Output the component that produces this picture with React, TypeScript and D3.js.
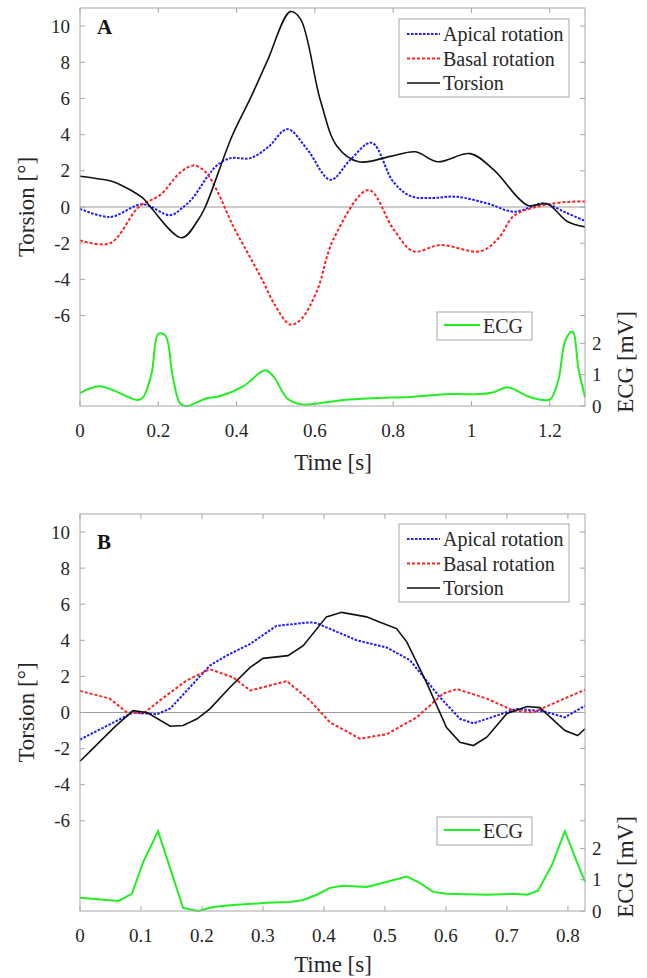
import React from 'react';
import * as d3 from 'd3';

// ---- panel A data (time in s, rotation in degrees, ECG in mV) ----
const apicalA_t = [0, 0.077, 0.16, 0.23, 0.264, 0.29, 0.325, 0.35, 0.384, 0.435, 0.48, 0.53, 0.58, 0.64, 0.69, 0.745, 0.8, 0.845, 0.9, 0.96, 1.04, 1.11, 1.185, 1.24, 1.29];
const apicalA = [-0.1, -0.55, 0.15, -0.45, 0.0, 0.55, 1.67, 2.3, 2.7, 2.7, 3.3, 4.3, 3.2, 1.5, 2.6, 3.55, 1.4, 0.6, 0.5, 0.57, 0.2, -0.26, 0.2, -0.3, -0.77];
const basalA_t = [0, 0.077, 0.15, 0.205, 0.256, 0.29, 0.32, 0.35, 0.39, 0.43, 0.465, 0.5, 0.537, 0.565, 0.606, 0.647, 0.737, 0.8, 0.852, 0.92, 1.023, 1.07, 1.108, 1.176, 1.245, 1.29];
const basalA = [-1.85, -2.0, 0.0, 0.67, 1.9, 2.3, 1.95, 0.9, -1.0, -2.6, -4.0, -5.5, -6.5, -6.2, -4.6, -1.8, 0.94, -1.2, -2.45, -2.1, -2.45, -1.7, -0.5, 0.06, 0.28, 0.3];
const torsionA_t = [0, 0.05, 0.085, 0.16, 0.18, 0.26, 0.302, 0.32, 0.388, 0.435, 0.478, 0.537, 0.563, 0.614, 0.657, 0.712, 0.793, 0.857, 0.913, 0.997, 1.057, 1.143, 1.194, 1.245, 1.29];
const torsionA = [1.7, 1.55, 1.4, 0.5, 0.0, -1.7, -0.7, 0.0, 3.9, 6.0, 8.05, 10.8, 10.4, 5.9, 3.35, 2.5, 2.8, 3.05, 2.5, 2.95, 2.05, 0.1, 0.17, -0.8, -1.1];
const ecgA_t = [0, 0.05, 0.149, 0.162, 0.183, 0.2, 0.218, 0.237, 0.256, 0.273, 0.324, 0.358, 0.417, 0.473, 0.495, 0.529, 0.563, 0.606, 0.673, 0.75, 0.844, 0.946, 1.023, 1.057, 1.092, 1.142, 1.185, 1.202, 1.222, 1.24, 1.258, 1.274, 1.29];
const ecgA = [0.41, 0.63, 0.19, 0.29, 1.05, 2.3, 2.25, 0.93, 0.08, 0.0, 0.25, 0.32, 0.63, 1.14, 0.93, 0.25, 0.06, 0.08, 0.19, 0.25, 0.29, 0.38, 0.38, 0.44, 0.6, 0.32, 0.19, 0.22, 0.83, 2.1, 2.38, 1.14, 0.29];

// ---- panel B data ----
const apicalB_t = [0, 0.087, 0.126, 0.148, 0.213, 0.24, 0.279, 0.322, 0.377, 0.388, 0.454, 0.503, 0.541, 0.59, 0.623, 0.645, 0.716, 0.759, 0.795, 0.828];
const apicalB = [-1.5, 0.0, -0.1, 0.22, 2.6, 3.15, 3.8, 4.8, 5.0, 4.95, 4.0, 3.6, 2.9, 0.85, -0.35, -0.6, 0.2, 0.07, -0.27, 0.38];
const basalB_t = [0, 0.049, 0.077, 0.104, 0.131, 0.175, 0.213, 0.251, 0.279, 0.339, 0.377, 0.41, 0.459, 0.503, 0.552, 0.595, 0.618, 0.667, 0.71, 0.743, 0.787, 0.828];
const basalB = [1.2, 0.77, 0.0, -0.05, 0.67, 1.78, 2.4, 1.95, 1.22, 1.74, 0.67, -0.55, -1.45, -1.2, -0.27, 1.04, 1.3, 0.77, 0.11, 0.0, 0.67, 1.26];
const torsionB_t = [0, 0.021, 0.057, 0.087, 0.11, 0.148, 0.169, 0.192, 0.213, 0.246, 0.279, 0.3, 0.341, 0.366, 0.404, 0.429, 0.47, 0.492, 0.519, 0.536, 0.568, 0.601, 0.623, 0.645, 0.667, 0.7, 0.733, 0.754, 0.795, 0.816, 0.828];
const torsionB = [-2.7, -2.0, -0.8, 0.1, 0.0, -0.76, -0.72, -0.35, 0.2, 1.4, 2.5, 3.0, 3.15, 3.7, 5.3, 5.55, 5.3, 5.0, 4.65, 3.9, 1.67, -0.83, -1.65, -1.83, -1.37, -0.05, 0.33, 0.27, -1.0, -1.28, -0.9];
const ecgB_t = [0, 0.063, 0.085, 0.104, 0.128, 0.169, 0.194, 0.218, 0.251, 0.306, 0.344, 0.366, 0.388, 0.41, 0.431, 0.47, 0.497, 0.536, 0.557, 0.579, 0.601, 0.667, 0.71, 0.733, 0.751, 0.774, 0.795, 0.815, 0.828];
const ecgB = [0.42, 0.32, 0.55, 1.58, 2.55, 0.1, 0.0, 0.13, 0.19, 0.26, 0.29, 0.35, 0.52, 0.74, 0.81, 0.77, 0.9, 1.1, 0.9, 0.61, 0.55, 0.52, 0.55, 0.52, 0.65, 1.48, 2.55, 1.55, 0.94];

// ---- axis ticks / labels ----
const torsionTicks = [-6, -4, -2, 0, 2, 4, 6, 8, 10];
const ecgTicks = [0, 1, 2];
const timeTicksA = [0, 0.2, 0.4, 0.6, 0.8, 1, 1.2];
const timeTicksB = [0, 0.1, 0.2, 0.3, 0.4, 0.5, 0.6, 0.7, 0.8];
const legendLabels = ['Apical rotation', 'Basal rotation', 'Torsion'];

const FONT = "'Liberation Serif', 'DejaVu Serif', 'Times New Roman', serif";
const TXT = '#262626';
const AXIS = '#a6a6a6';

const zip = (t, v) => t.map((x, i) => [x, v[i]]);

function Panel({ top, bottom, tMax, timeTicks, letter, letterY, data, smooth, legendTop, ecgLegendTop, timeLabelY }) {
  const left = 80, right = 585;
  const x = d3.scaleLinear().domain([0, tMax]).range([left, right]);
  const y = d3.scaleLinear().domain([-11, 11]).range([bottom, top]);
  const yE = d3.scaleLinear().domain([0, (bottom - top) / 31.3]).range([bottom, top]);
  const curve = smooth ? d3.curveCatmullRom.alpha(0.5) : d3.curveLinear;
  const line = d3.line().x(d => x(d[0])).y(d => y(d[1])).curve(curve);
  const lineE = d3.line().x(d => x(d[0])).y(d => yE(d[1])).curve(curve);
  const tk = 5;
  const fmt = d3.format('~g');
  const ts = { fontFamily: FONT };

  const series = [
    { pts: zip(data.apical_t, data.apical), color: '#1a1aff', dash: '2.5,1.5', w: 2 },
    { pts: zip(data.basal_t, data.basal), color: '#ff2020', dash: '3,2', w: 2 },
    { pts: zip(data.torsion_t, data.torsion), color: '#111', dash: null, w: 1.6 },
  ];

  return (
    <g>
      {/* zero line */}
      <line x1={left} x2={right} y1={y(0)} y2={y(0)} stroke="#9a9a9a" strokeWidth={1} />
      {/* series */}
      {series.map((s, i) => (
        <path key={i} d={line(s.pts)} fill="none" stroke={s.color} strokeWidth={s.w}
          strokeDasharray={s.dash || undefined} />
      ))}
      <path d={lineE(zip(data.ecg_t, data.ecg))} fill="none" stroke="#22ee22" strokeWidth={2} />

      {/* box */}
      <rect x={left} y={top} width={right - left} height={bottom - top} fill="none" stroke={AXIS} strokeWidth={1} />
      {/* time ticks */}
      {timeTicks.map(t => (
        <g key={t}>
          <line x1={x(t)} x2={x(t)} y1={bottom} y2={bottom - tk} stroke={AXIS} />
          <line x1={x(t)} x2={x(t)} y1={top} y2={top + tk} stroke={AXIS} />
          <text style={ts} x={x(t)} y={bottom + 31} textAnchor="middle" fontSize={19} fill={TXT}>{fmt(t)}</text>
        </g>
      ))}
      {/* torsion ticks */}
      {torsionTicks.map(v => (
        <g key={v}>
          <line x1={left} x2={left + tk} y1={y(v)} y2={y(v)} stroke={AXIS} />
          <line x1={right} x2={right - tk} y1={y(v)} y2={y(v)} stroke={AXIS} />
          <text style={ts} x={70} y={y(v) + 6.5} textAnchor="end" fontSize={19} fill={TXT}>{v}</text>
        </g>
      ))}
      {/* ECG ticks */}
      {ecgTicks.map(v => (
        <g key={v}>
          <line x1={right} x2={right - tk} y1={yE(v)} y2={yE(v)} stroke={AXIS} />
          <text style={ts} x={592} y={yE(v) + 6.5} textAnchor="start" fontSize={19} fill={TXT}>{v}</text>
        </g>
      ))}

      {/* axis labels */}
      <text style={ts} transform={`translate(34,${y(0)}) rotate(-90)`} textAnchor="middle" fontSize={23} fill={TXT}>Torsion [°]</text>
      <text style={ts} transform={`translate(633,${yE(0) - 44}) rotate(-90)`} textAnchor="middle" fontSize={23} fill={TXT}>ECG [mV]</text>
      <text style={ts} x={333} y={timeLabelY} textAnchor="middle" fontSize={23} fill={TXT}>Time [s]</text>
      <text style={ts} x={97} y={letterY} fontSize={21} fontWeight="bold" fill="#111">{letter}</text>

      {/* main legend */}
      <rect x={399} y={legendTop} width={170} height={78} fill="#fff" stroke={AXIS} />
      {legendLabels.map((lab, i) => (
        <g key={lab}>
          <line x1={407} x2={440} y1={legendTop + 15 + i * 24.5} y2={legendTop + 15 + i * 24.5}
            stroke={series[i].color} strokeWidth={series[i].w} strokeDasharray={series[i].dash || undefined} />
          <text style={ts} x={443} y={legendTop + 22 + i * 24.5} fontSize={20} fill={TXT}>{lab}</text>
        </g>
      ))}
      {/* ECG legend */}
      <rect x={437} y={ecgLegendTop} width={95} height={28} fill="#fff" stroke={AXIS} />
      <line x1={444} x2={480} y1={ecgLegendTop + 13} y2={ecgLegendTop + 13} stroke="#22ee22" strokeWidth={2} />
      <text style={ts} x={483} y={ecgLegendTop + 20.5} fontSize={20} fill={TXT}>ECG</text>
    </g>
  );
}

export default function App() {
  return (
    <div style={{ position: 'absolute', left: 0, top: 0 }}>
      <svg width={647} height={978} style={{ display: 'block', background: '#fff' }}>
        <Panel top={8} bottom={406} tMax={1.29} timeTicks={timeTicksA} letter="A" letterY={34}
          smooth legendTop={19} ecgLegendTop={312} timeLabelY={470}
          data={{ apical_t: apicalA_t, apical: apicalA, basal_t: basalA_t, basal: basalA,
            torsion_t: torsionA_t, torsion: torsionA, ecg_t: ecgA_t, ecg: ecgA }} />
        <Panel top={514} bottom={911} tMax={0.828} timeTicks={timeTicksB} letter="B" letterY={549}
          smooth={false} legendTop={524} ecgLegendTop={817} timeLabelY={972}
          data={{ apical_t: apicalB_t, apical: apicalB, basal_t: basalB_t, basal: basalB,
            torsion_t: torsionB_t, torsion: torsionB, ecg_t: ecgB_t, ecg: ecgB }} />
      </svg>
    </div>
  );
}
